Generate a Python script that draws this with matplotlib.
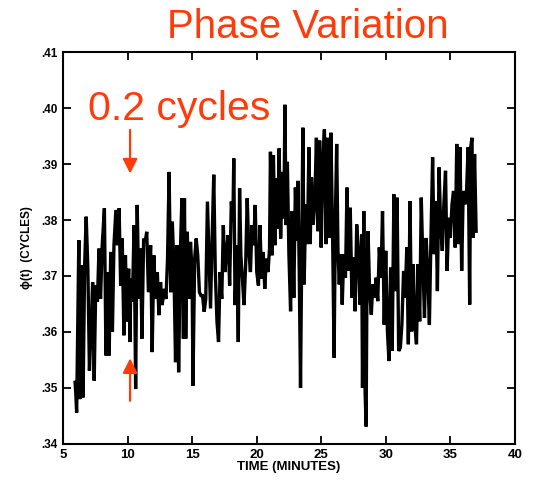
import matplotlib
matplotlib.use("Agg")
import matplotlib.pyplot as plt

# phase samples (minutes, cycles)
time_min = [
    5.94, 5.99, 6.06, 6.23, 6.31, 6.43, 6.56, 6.68, 6.80, 6.93, 7.05, 7.17, 7.30, 7.42,
    7.54, 7.67, 7.79, 7.91, 8.04, 8.21, 8.33, 8.46, 8.58, 8.70, 8.83, 8.95, 9.10, 9.22,
    9.35, 9.47, 9.59, 9.72, 9.84, 9.96, 10.09, 10.19, 10.26, 10.38, 10.51, 10.63, 10.75,
    10.88, 11.00, 11.12, 11.25, 11.37, 11.49, 11.62, 11.79, 11.91, 12.04, 12.16, 12.31,
    12.43, 12.56, 12.68, 12.85, 12.98, 13.10, 13.22, 13.35, 13.47, 13.59, 13.72, 13.84,
    13.96, 14.09, 14.21, 14.33, 14.41, 14.51, 14.63, 14.75, 14.88, 15.00, 15.07, 15.20,
    15.32, 15.44, 15.57, 15.69, 15.81, 15.94, 16.06, 16.19, 16.31, 16.43, 16.56, 16.68,
    16.80, 16.93, 17.05, 17.17, 17.30, 17.42, 17.54, 17.67, 17.79, 17.91, 18.04, 18.16,
    18.23, 18.33, 18.46, 18.58, 18.68, 18.78, 18.90, 19.02, 19.15, 19.27, 19.40, 19.52,
    19.64, 19.77, 19.89, 20.01, 20.14, 20.26, 20.38, 20.51, 20.63, 20.75, 20.88, 21.00,
    21.07, 21.20, 21.30, 21.42, 21.54, 21.67, 21.74, 21.86, 21.99, 22.11, 22.19, 22.28,
    22.38, 22.50, 22.63, 22.75, 22.88, 23.00, 23.13, 23.20, 23.30, 23.40, 23.50, 23.58,
    23.68, 23.80, 23.93, 24.05, 24.15, 24.25, 24.38, 24.50, 24.63, 24.75, 24.88, 25.00,
    25.13, 25.25, 25.38, 25.50, 25.63, 25.75, 25.88, 26.00, 26.10, 26.20, 26.30, 26.40,
    26.50, 26.63, 26.75, 26.88, 27.00, 27.13, 27.25, 27.38, 27.50, 27.63, 27.75, 27.88,
    28.00, 28.13, 28.20, 28.30, 28.40, 28.48, 28.55, 28.63, 28.75, 28.88, 29.00, 29.13,
    29.25, 29.38, 29.50, 29.63, 29.75, 29.88, 30.00, 30.13, 30.25, 30.38, 30.50, 30.63,
    30.75, 30.88, 31.00, 31.13, 31.25, 31.38, 31.50, 31.63, 31.75, 31.88, 32.00, 32.13,
    32.25, 32.38, 32.50, 32.63, 32.75, 32.88, 33.00, 33.13, 33.25, 33.38, 33.50, 33.63,
    33.75, 33.88, 34.00, 34.13, 34.25, 34.38, 34.50, 34.63, 34.75, 34.88, 35.00, 35.13,
    35.25, 35.38, 35.50, 35.63, 35.75, 35.88, 36.00, 36.13, 36.25, 36.38, 36.50, 36.58,
    36.68, 36.75, 36.88, 37.00,
]
phase = [
    .3510, .3492, .3456, .3764, .3480, .3719, .3483, .3719, .3806, .3713, .3531, .3600, .3689, .3513,
    .3683, .3654, .3749, .3659, .3755, .3821, .3558, .3707, .3558, .3743, .3600, .3755, .3818, .3755,
    .3821, .3683, .3767, .3594, .3737, .3618, .3713, .3582, .3695, .3654, .3791, .3498, .3827,
    .3659, .3749, .3588, .3767, .3761, .3779, .3671, .3755, .3564, .3737, .3659, .3707,
    .3630, .3689, .3648, .3677, .3659, .3731, .3886, .3671, .3797, .3719, .3546, .3755,
    .3528, .3737, .3839, .3588, .3839, .3588, .3779, .3659, .3761, .3707, .3504, .3731,
    .3767, .3737, .3671, .3665, .3665, .3636, .3659, .3833, .3737, .3642, .3773, .3881,
    .3707, .3618, .3582, .3707, .3659, .3791, .3707, .3743, .3773, .3683, .3833, .3797,
    .3910, .3648, .3755, .3582, .3857, .3737, .3695, .3648, .3719, .3839, .3743, .3707,
    .3791, .3755, .3827, .3707, .3683, .3791, .3695, .3743, .3677, .3731, .3707, .3749,
    .3922, .3737, .3916, .3755, .3875, .3785, .3928, .3767, .3886, .3803, .4006, .3791,
    .3904, .3739, .3637, .3816, .3661, .3858, .3763, .3870, .3709, .3500, .3768, .3965,
    .3685, .3828, .3757, .3930, .3757, .3876, .3792, .3828, .3947, .3780, .3942, .3751,
    .3906, .3962, .3757, .3947, .3768, .3956, .3780, .3554, .3804, .3936, .3745, .3685,
    .3739, .3649, .3739, .3697, .3858, .3709, .3822, .3661, .3733, .3637, .3792, .3739,
    .3649, .3774, .3500, .3816, .3494, .3431, .3709, .3780, .3673, .3631, .3685, .3661,
    .3697, .3655, .3751, .3697, .3816, .3613, .3745, .3601, .3548, .3715, .3566, .3846,
    .3673, .3840, .3566, .3572, .3613, .3709, .3661, .3751, .3578, .3834, .3601, .3721,
    .3613, .3578, .3721, .3619, .3840, .3721, .3625, .3768, .3709, .3613, .3768, .3912,
    .3739, .3834, .3673, .3894, .3792, .3745, .3828, .3888, .3709, .3804, .3768, .3828,
    .3852, .3751, .3936, .3757, .3930, .3709, .3852, .3828, .3846, .3930, .3649, .3930,
    .3947, .3768, .3918, .3780,
]

x_ticks = [5, 10, 15, 20, 25, 30, 35, 40]
y_ticks = [.34, .35, .36, .37, .38, .39, .40, .41]
y_tick_labels = ['.34', '.35', '.36', '.37', '.38', '.39', '.40', '.41']

red = '#FF3B0A'
plt.rcParams['font.family'] = ['Liberation Sans', 'DejaVu Sans']

fig = plt.figure(figsize=(5.38, 4.83), dpi=100)
ax = fig.add_axes([0.117, 0.081, 0.84, 0.811])

ax.plot(time_min, phase, color='black', linewidth=2.4, solid_joinstyle='miter')

ax.set_xlim(5, 40)
ax.set_ylim(.34, .41)
ax.set_xticks(x_ticks)
ax.set_xticklabels([str(t) for t in x_ticks], fontsize=9.5, fontweight='bold')
ax.set_yticks(y_ticks)
ax.set_yticklabels(y_tick_labels, fontsize=8.5, fontweight='bold')
ax.tick_params(direction='in', length=6, width=1.3, top=True, right=True, pad=4)
for s in ax.spines.values():
    s.set_linewidth(1.5)

ax.set_xlabel('TIME (MINUTES)', fontsize=9.5, fontweight='bold', labelpad=0)
ax.set_ylabel('ϕ(t)  (CYCLES)', fontsize=8.5, fontweight='bold', labelpad=6)

# annotations
fig.text(0.5725, 0.921, 'Phase Variation', color=red, fontsize=29,
         ha='center', va='baseline')
fig.text(0.163, 0.752, '0.2 cycles', color=red, fontsize=29.5,
         ha='left', va='baseline')
arrow = dict(arrowstyle='-|>', color=red, lw=1.6, mutation_scale=22)
ax.annotate('', xy=(10.2, .3878), xytext=(10.2, .3966), arrowprops=arrow)
ax.annotate('', xy=(10.2, .3558), xytext=(10.2, .3472), arrowprops=arrow)

fig.savefig('out.png', dpi=100)
